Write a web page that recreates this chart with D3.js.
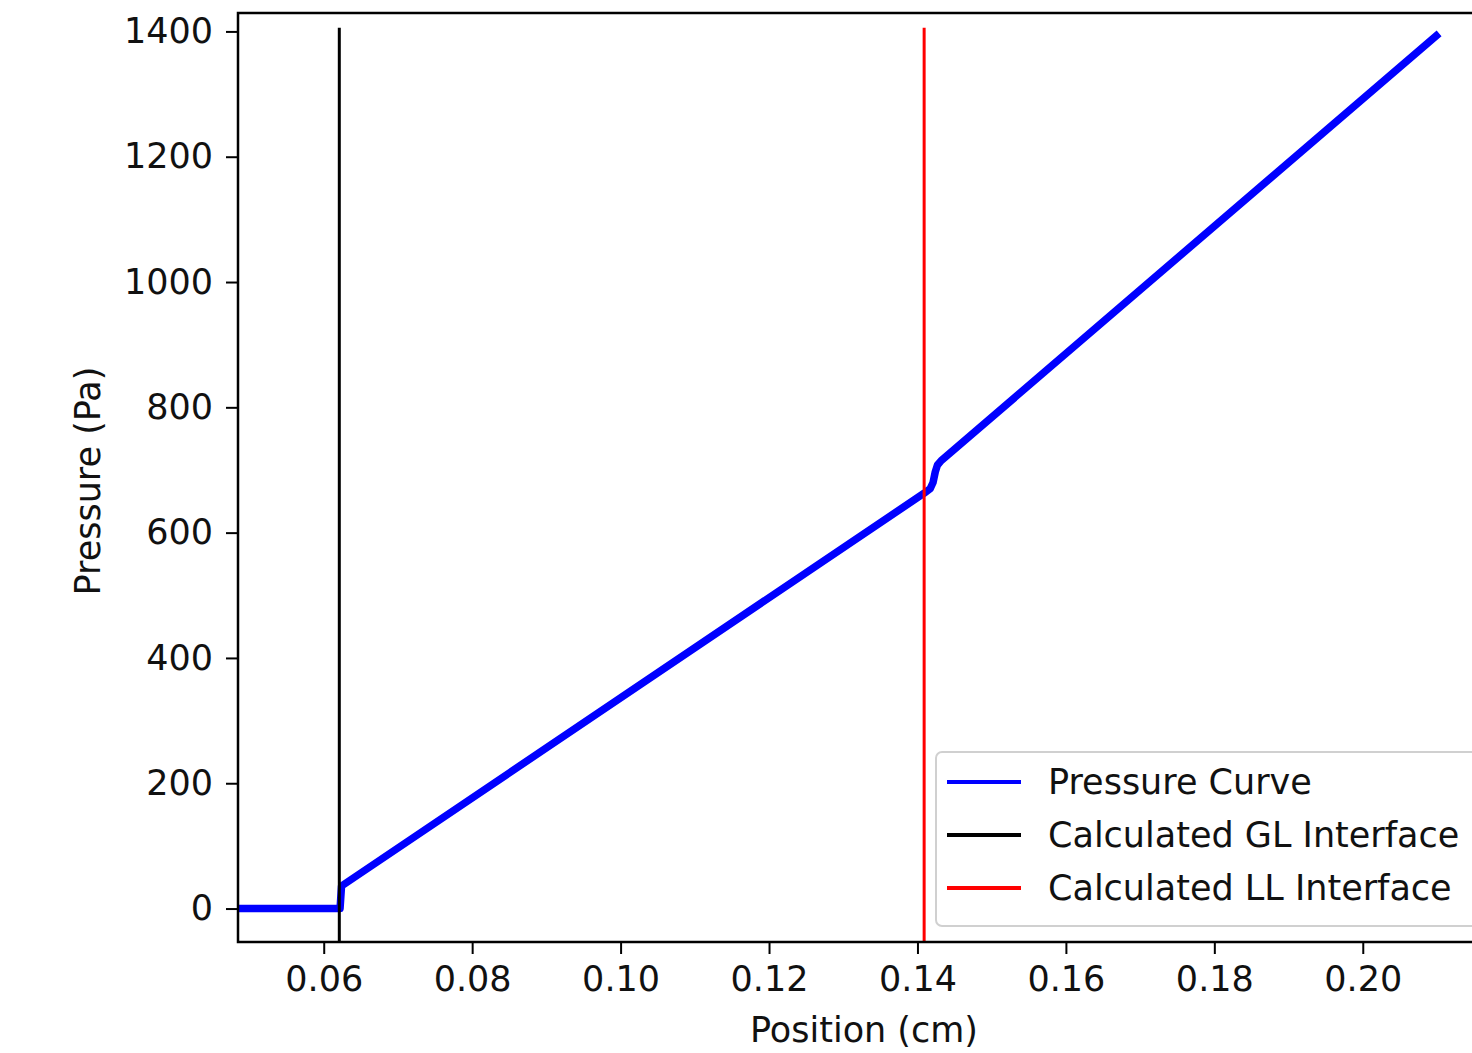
<!DOCTYPE html>
<html><head><meta charset="utf-8">
<script src="https://cdn.jsdelivr.net/npm/d3@7"></script>
<style>
html,body{margin:0;padding:0;background:#fff;overflow:hidden;}
svg{display:block;font-family:"DejaVu Sans",sans-serif;}
</style></head>
<body>
<script>
// Data
const positions = [0.0484, 0.0620, 0.0622, 0.0624, 0.1409, 0.1417, 0.1421, 0.1424, 0.1427, 0.1432, 0.2099];
const pressures = [0, 0, 0, 36, 663, 670, 680, 697, 708, 715, 1393];
const glInterface = 0.0621;
const llInterface = 0.1409;
const interfaceTop = 1406;
const xTicks = [0.06, 0.08, 0.10, 0.12, 0.14, 0.16, 0.18, 0.20];
const yTicks = [0, 200, 400, 600, 800, 1000, 1200, 1400];
const legendLabels = ["Pressure Curve", "Calculated GL Interface", "Calculated LL Interface"];
const legendColors = ["#0000ff", "#000000", "#ff0000"];

const W = 1472, H = 1053;
const pL = 238, pT = 13, pB = 942, pR = 1485;
const svg = d3.select("body").append("svg").attr("width", W).attr("height", H);

const x = d3.scaleLinear().domain([0.04845, 0.06 + (pR - 324) / 7420]).range([pL, pR]);
const y = d3.scaleLinear().domain([-53.4, 1429.4]).range([pB, pT]);

svg.append("defs").append("clipPath").attr("id", "clip")
  .append("rect").attr("x", pL).attr("y", pT).attr("width", pR - pL).attr("height", pB - pT);

const plot = svg.append("g").attr("clip-path", "url(#clip)");

const pts = positions.map((p, i) => [p, pressures[i]]);
plot.append("path").datum(pts)
  .attr("d", d3.line().x(d => x(d[0])).y(d => y(d[1])))
  .attr("fill", "none").attr("stroke", "#0000ff").attr("stroke-width", 7.5)
  .attr("stroke-linejoin", "round").attr("stroke-linecap", "square");

[[glInterface, "#000000"], [llInterface, "#ff0000"]].forEach(([v, c]) => {
  plot.append("line").attr("x1", x(v)).attr("x2", x(v))
    .attr("y1", pB).attr("y2", y(interfaceTop))
    .attr("stroke", c).attr("stroke-width", 3);
});

const fs = 35;
const xAxis = svg.append("g").attr("transform", `translate(0,${pB})`)
  .call(d3.axisBottom(x).tickValues(xTicks).tickFormat(d3.format(".2f")).tickSizeOuter(0).tickSize(12).tickPadding(12));
const yAxis = svg.append("g").attr("transform", `translate(${pL},0)`)
  .call(d3.axisLeft(y).tickValues(yTicks).tickFormat(d3.format("d")).tickSizeOuter(0).tickSize(12).tickPadding(13));
[xAxis, yAxis].forEach(a => {
  a.select(".domain").remove();
  a.selectAll(".tick line").attr("stroke", "#000").attr("stroke-width", 2);
  a.selectAll(".tick text").attr("font-size", fs).attr("fill", "#111").attr("font-family", "DejaVu Sans");
});

svg.append("rect").attr("x", pL).attr("y", pT).attr("width", pR - pL).attr("height", pB - pT)
  .attr("fill", "none").attr("stroke", "#000").attr("stroke-width", 2.5);

svg.append("text").attr("x", 864).attr("y", 1042).attr("text-anchor", "middle")
  .attr("font-size", fs).attr("fill", "#111").text("Position (cm)");
svg.append("text").attr("transform", "translate(100,481) rotate(-90)").attr("text-anchor", "middle")
  .attr("font-size", fs).attr("fill", "#111").text("Pressure (Pa)");

const lg = svg.append("g");
lg.append("rect").attr("x", 936).attr("y", 752).attr("width", 560).attr("height", 174).attr("rx", 6)
  .attr("fill", "#fff").attr("fill-opacity", 0.8).attr("stroke", "#d0d0d0").attr("stroke-width", 2);
legendLabels.forEach((lab, i) => {
  const cy = 782 + i * 53;
  lg.append("line").attr("x1", 947).attr("x2", 1021).attr("y1", cy).attr("y2", cy)
    .attr("stroke", legendColors[i]).attr("stroke-width", 4);
  lg.append("text").attr("x", 1048).attr("y", cy).attr("dy", "0.35em")
    .attr("font-size", fs).attr("fill", "#111").text(lab);
});
</script>
</body></html>
